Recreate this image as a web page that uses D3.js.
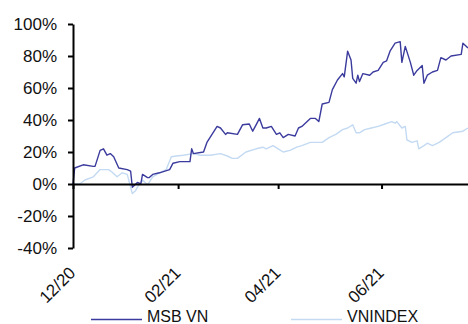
<!DOCTYPE html>
<html>
<head>
<meta charset="utf-8">
<script src="https://cdn.jsdelivr.net/npm/d3@7"></script>
<style>
  body { margin: 0; background: #fff; }
  svg { font-family: "Liberation Sans", Arial, sans-serif; }
</style>
</head>
<body>
<div id="chart"></div>
<script>
// relative performance since 12/2020
const msbData = [
  ["2020-12-01", 0], ["2020-12-02", 10], ["2020-12-07", 12], ["2020-12-13", 11], ["2020-12-14", 11],
  ["2020-12-17", 21], ["2020-12-19", 22], ["2020-12-21", 18], ["2020-12-23", 19], ["2020-12-25", 17],
  ["2020-12-28", 10], ["2021-01-02", 9], ["2021-01-04", 8], ["2021-01-05", -2], ["2021-01-08", 1],
  ["2021-01-10", 0], ["2021-01-11", 6], ["2021-01-14", 4], ["2021-01-15", 4], ["2021-01-17", 6],
  ["2021-01-21", 7], ["2021-01-27", 9], ["2021-01-29", 13], ["2021-02-02", 14], ["2021-02-08", 14],
  ["2021-02-09", 22], ["2021-02-10", 19], ["2021-02-16", 20], ["2021-02-18", 26], ["2021-02-24", 36],
  ["2021-02-26", 35], ["2021-03-01", 31], ["2021-03-02", 32], ["2021-03-08", 31], ["2021-03-11", 37],
  ["2021-03-15", 37.5], ["2021-03-17", 33], ["2021-03-19", 37], ["2021-03-21", 41], ["2021-03-23", 35],
  ["2021-03-25", 35], ["2021-03-28", 36], ["2021-03-31", 31], ["2021-04-02", 32], ["2021-04-04", 29],
  ["2021-04-07", 31], ["2021-04-11", 30], ["2021-04-13", 35], ["2021-04-15", 36], ["2021-04-20", 41],
  ["2021-04-23", 41], ["2021-04-25", 39], ["2021-04-27", 50], ["2021-05-01", 51], ["2021-05-03", 59],
  ["2021-05-06", 65], ["2021-05-09", 69], ["2021-05-10", 67], ["2021-05-12", 83], ["2021-05-14", 77.5],
  ["2021-05-15", 66], ["2021-05-17", 63], ["2021-05-18", 68], ["2021-05-19", 64], ["2021-05-21", 69],
  ["2021-05-25", 68], ["2021-05-27", 70], ["2021-05-30", 71], ["2021-06-02", 76], ["2021-06-04", 77],
  ["2021-06-06", 83], ["2021-06-09", 88], ["2021-06-12", 89], ["2021-06-13", 76], ["2021-06-15", 86],
  ["2021-06-18", 76], ["2021-06-20", 68], ["2021-06-22", 71], ["2021-06-25", 74], ["2021-06-26", 63],
  ["2021-06-28", 68], ["2021-07-01", 70], ["2021-07-04", 71], ["2021-07-06", 79], ["2021-07-09", 77.5],
  ["2021-07-12", 80], ["2021-07-18", 81], ["2021-07-19", 88], ["2021-07-22", 85]
];

const vniData = [
  ["2020-12-01", 0], ["2020-12-05", 0], ["2020-12-08", 2.5], ["2020-12-13", 4.5], ["2020-12-17", 9],
  ["2020-12-22", 9], ["2020-12-24", 7.5], ["2020-12-27", 4.5], ["2020-12-30", 7], ["2021-01-02", 6],
  ["2021-01-05", -6], ["2021-01-07", -4], ["2021-01-08", -2], ["2021-01-11", 2.5], ["2021-01-14", -0.5],
  ["2021-01-17", 4.5], ["2021-01-21", 7], ["2021-01-25", 9], ["2021-01-28", 17], ["2021-01-31", 17.5],
  ["2021-02-04", 18], ["2021-02-10", 19], ["2021-02-14", 18], ["2021-02-20", 18], ["2021-02-26", 19],
  ["2021-03-02", 17.5], ["2021-03-05", 16], ["2021-03-08", 16], ["2021-03-13", 20], ["2021-03-19", 22],
  ["2021-03-23", 23], ["2021-03-25", 22], ["2021-03-29", 24], ["2021-04-01", 22], ["2021-04-04", 20],
  ["2021-04-08", 21], ["2021-04-12", 23], ["2021-04-15", 24], ["2021-04-20", 26], ["2021-04-24", 26],
  ["2021-04-27", 26], ["2021-05-01", 29], ["2021-05-05", 31], ["2021-05-09", 34], ["2021-05-12", 35],
  ["2021-05-15", 37], ["2021-05-17", 32], ["2021-05-19", 32], ["2021-05-22", 34], ["2021-05-26", 35],
  ["2021-05-30", 36], ["2021-06-03", 37.5], ["2021-06-07", 39], ["2021-06-09", 38], ["2021-06-10", 39],
  ["2021-06-13", 35], ["2021-06-15", 36], ["2021-06-16", 27.5], ["2021-06-19", 26], ["2021-06-22", 27],
  ["2021-06-23", 22], ["2021-06-26", 24], ["2021-06-28", 25.5], ["2021-07-01", 24], ["2021-07-05", 26],
  ["2021-07-09", 29], ["2021-07-13", 32], ["2021-07-16", 32.5], ["2021-07-19", 33], ["2021-07-22", 35]
];

const seriesNames = ["MSB VN", "VNINDEX"];
const seriesColors = ["#3b3b9e", "#c3daf2"];
const yTicks = [-40, -20, 0, 20, 40, 60, 80, 100];
const xTickDates = ["2020-12-01", "2021-02-01", "2021-04-01", "2021-06-01"];

const width = 468, height = 324;
const parseDate = d3.timeParse("%Y-%m-%d");

const svg = d3.select("#chart").append("svg")
    .attr("width", width)
    .attr("height", height);

const x = d3.scaleTime()
    .domain([parseDate("2020-12-01"), parseDate("2021-07-22")])
    .range([73, 468]);

const y = d3.scaleLinear()
    .domain([-40, 100])
    .range([248, 24]);

const series = [msbData, vniData];

// lines (light one underneath)
const line = d3.line()
    .x(d => x(parseDate(d[0])))
    .y(d => y(d[1]));

[1, 0].forEach(i => {
    svg.append("path")
        .datum(series[i])
        .attr("fill", "none")
        .attr("stroke", seriesColors[i])
        .attr("stroke-width", 1.4)
        .attr("stroke-linejoin", "round")
        .attr("d", line);
});

// y axis
const yAxis = svg.append("g")
    .attr("transform", "translate(73,0)")
    .call(d3.axisLeft(y).tickValues(yTicks).tickFormat(d => d + "%")
        .tickSize(5).tickSizeOuter(0).tickPadding(11));
yAxis.selectAll("path, line").attr("stroke", "#000").attr("stroke-width", 2);
yAxis.selectAll("text").attr("font-size", 17).attr("fill", "#111");

// x axis sits on the 0% line
const xAxis = svg.append("g")
    .attr("transform", `translate(0,${y(0)})`)
    .call(d3.axisBottom(x).tickValues(xTickDates.map(parseDate))
        .tickFormat(d3.timeFormat("%m/%y")).tickSize(5).tickSizeOuter(0));
xAxis.select(".domain").attr("stroke", "#000").attr("stroke-width", 2);
xAxis.selectAll("line").attr("stroke", "#000").attr("stroke-width", 2);
xAxis.selectAll("text")
    .attr("font-size", 17)
    .attr("fill", "#111")
    .attr("text-anchor", "end")
    .attr("x", 0).attr("y", 0).attr("dy", 0)
    .attr("transform", "translate(3,90) rotate(-45)");

// legend
const legendX = [91, 291];
seriesNames.forEach((name, i) => {
    svg.append("line")
        .attr("x1", legendX[i]).attr("x2", legendX[i] + 51)
        .attr("y1", 319.5).attr("y2", 319.5)
        .attr("stroke", seriesColors[i])
        .attr("stroke-width", 1.4);
    svg.append("text")
        .attr("x", legendX[i] + 56)
        .attr("y", 322)
        .attr("font-size", 16)
        .attr("fill", "#111")
        .text(name);
});
</script>
</body>
</html>
